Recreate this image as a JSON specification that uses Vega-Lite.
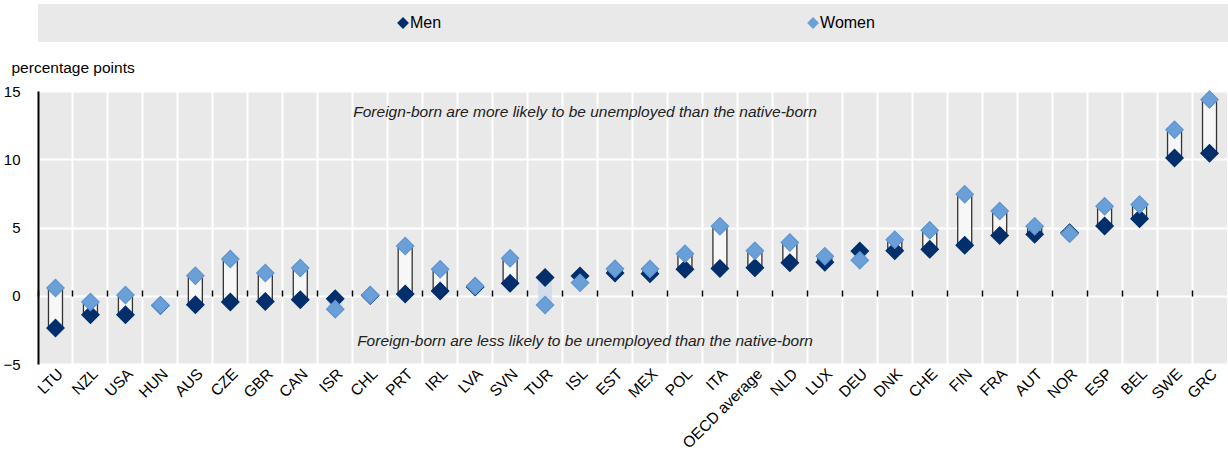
{
  "$schema": "https://vega.github.io/schema/vega-lite/v6.json",
  "padding": {"left": 2, "top": 4, "right": 0, "bottom": 0},
  "bounds": "flush",
  "spacing": 49,
  "config": {
    "font": "Liberation Sans, Arial",
    "view": {"fill": "#e9e9e9", "stroke": null}
  },
  "datasets": {
    "gaps": [
      {"cnt": "LTU", "Men": -2.37, "Women": 0.57},
      {"cnt": "NZL", "Men": -1.4, "Women": -0.46},
      {"cnt": "USA", "Men": -1.4, "Women": 0.05},
      {"cnt": "HUN", "Men": -0.72, "Women": -0.69},
      {"cnt": "AUS", "Men": -0.66, "Women": 1.47},
      {"cnt": "CZE", "Men": -0.46, "Women": 2.69},
      {"cnt": "GBR", "Men": -0.42, "Women": 1.67},
      {"cnt": "CAN", "Men": -0.29, "Women": 2.03},
      {"cnt": "ISR", "Men": -0.22, "Women": -0.98},
      {"cnt": "CHL", "Men": 0.02, "Women": 0.05},
      {"cnt": "PRT", "Men": 0.12, "Women": 3.65},
      {"cnt": "IRL", "Men": 0.35, "Women": 1.94},
      {"cnt": "LVA", "Men": 0.65, "Women": 0.71},
      {"cnt": "SVN", "Men": 0.91, "Women": 2.74},
      {"cnt": "TUR", "Men": 1.34, "Women": -0.68},
      {"cnt": "ISL", "Men": 1.45, "Women": 0.96},
      {"cnt": "EST", "Men": 1.66, "Women": 1.98},
      {"cnt": "MEX", "Men": 1.62, "Women": 1.96},
      {"cnt": "POL", "Men": 1.94, "Women": 3.08},
      {"cnt": "ITA", "Men": 2.0, "Women": 5.1},
      {"cnt": "OECD average", "Men": 2.05, "Women": 3.3},
      {"cnt": "NLD", "Men": 2.42, "Women": 3.9},
      {"cnt": "LUX", "Men": 2.46, "Women": 2.9},
      {"cnt": "DEU", "Men": 3.27, "Women": 2.6},
      {"cnt": "DNK", "Men": 3.3, "Women": 4.1},
      {"cnt": "CHE", "Men": 3.4, "Women": 4.8},
      {"cnt": "FIN", "Men": 3.7, "Women": 7.44},
      {"cnt": "FRA", "Men": 4.42, "Women": 6.21},
      {"cnt": "AUT", "Men": 4.5, "Women": 5.1},
      {"cnt": "NOR", "Men": 4.62, "Women": 4.55},
      {"cnt": "ESP", "Men": 5.11, "Women": 6.56},
      {"cnt": "BEL", "Men": 5.65, "Women": 6.68},
      {"cnt": "SWE", "Men": 10.1, "Women": 12.16},
      {"cnt": "GRC", "Men": 10.44, "Women": 14.37}
    ],
    "notes": [
      {"cnt": "ISL", "v": 13.45, "label": "Foreign-born are more likely to be unemployed than the native-born"},
      {"cnt": "ISL", "v": -3.3, "label": "Foreign-born are less likely to be unemployed than the native-born"}
    ],
    "legend": [
      {"series": "Men"},
      {"series": "Women"}
    ]
  },
  "vconcat": [
    {
      "width": 1190,
      "height": 38,
      "data": {"name": "legend"},
      "layer": [
        {
          "mark": {"type": "point", "shape": "diamond", "filled": true, "size": 140, "opacity": 1},
          "encoding": {
            "x": {"field": "series", "type": "nominal", "axis": null,
                  "scale": {"type": "point", "domain": ["Men", "Women"], "padding": 0.951, "align": 0.468}},
            "color": {"field": "series", "type": "nominal", "legend": null,
                      "scale": {"domain": ["Men", "Women"], "range": ["#002f6c", "#6a9fd8"]}}
          }
        },
        {
          "mark": {"type": "text", "align": "left", "baseline": "middle", "dx": 7, "fontSize": 16, "color": "#000"},
          "encoding": {
            "x": {"field": "series", "type": "nominal", "axis": null,
                  "scale": {"type": "point", "domain": ["Men", "Women"], "padding": 0.951, "align": 0.468}},
            "text": {"field": "series"}
          }
        }
      ]
    },
    {
      "width": 1189,
      "height": 273,
      "resolve": {"axis": {"x": "independent"}},
      "layer": [
        {
          "data": {"name": "gaps"},
          "mark": {"type": "bar", "width": 14, "strokeWidth": 1.3},
          "encoding": {
            "x": {"field": "cnt", "type": "nominal", "sort": null, "title": null,
                  "scale": {"paddingInner": 0, "paddingOuter": 0},
                  "axis": {"labelAngle": -45, "domain": false, "ticks": false, "grid": true, "gridColor": "#ffffff", "gridWidth": 2,
                           "bandPosition": 0, "labelFontSize": 15.5, "labelColor": "#000", "labelPadding": 2}},
            "y": {"field": "Men", "type": "quantitative",
                  "scale": {"domain": [-5, 15], "nice": false},
                  "axis": {"values": [-5, 0, 5, 10, 15], "grid": true, "gridColor": "#ffffff", "gridWidth": 2,
                           "domainColor": "#000", "domainWidth": 2, "ticks": false, "labelPadding": 18,
                           "labelFontSize": 15, "labelColor": "#000",
                           "title": "percentage points", "titleAngle": 0, "titleAlign": "left", "titleBaseline": "middle",
                           "titleX": -27, "titleY": -24, "titleFontWeight": "normal", "titleFontSize": 15.5, "titleColor": "#000"}},
            "y2": {"field": "Women"},
            "fill": {"condition": {"test": "datum.Women < datum.Men", "value": "#d2dcea"}, "value": "#f7f7f7"},
            "stroke": {"value": "#333333"},
            "strokeOpacity": {"condition": {"test": "datum.Women < datum.Men", "value": 0}, "value": 1}
          }
        },
        {
          "data": {"name": "notes"},
          "mark": {"type": "text", "fontStyle": "italic", "fontSize": 15.5, "color": "#222", "align": "center", "baseline": "middle", "dx": 5},
          "encoding": {
            "x": {"field": "cnt", "type": "nominal", "sort": null, "title": null,
                  "axis": {"orient": "top", "offset": -205, "labels": false, "domain": false, "ticks": true,
                           "tickSize": 6, "tickColor": "#000", "tickWidth": 1.5, "grid": false, "bandPosition": 0}},
            "y": {"field": "v", "type": "quantitative"},
            "text": {"field": "label"}
          }
        },
        {
          "mark": {"type": "rule", "color": "#000", "strokeWidth": 1.6},
          "encoding": {
            "y": {"datum": 0}
          }
        },
        {
          "data": {"name": "gaps"},
          "transform": [{"fold": ["Men", "Women"], "as": ["series", "value"]}],
          "mark": {"type": "point", "shape": "diamond", "filled": true, "size": 300, "opacity": 1, "strokeWidth": 1.2},
          "encoding": {
            "x": {"field": "cnt", "type": "nominal", "sort": null, "axis": null},
            "y": {"field": "value", "type": "quantitative"},
            "color": {"field": "series", "type": "nominal", "legend": null,
                      "scale": {"domain": ["Men", "Women"], "range": ["#002f6c", "#6a9fd8"]}},
            "stroke": {"field": "series", "type": "nominal", "legend": null,
                       "scale": {"domain": ["Men", "Women"], "range": ["#002f6c", "#5f96d2"]}}
          }
        }
      ]
    }
  ]
}
